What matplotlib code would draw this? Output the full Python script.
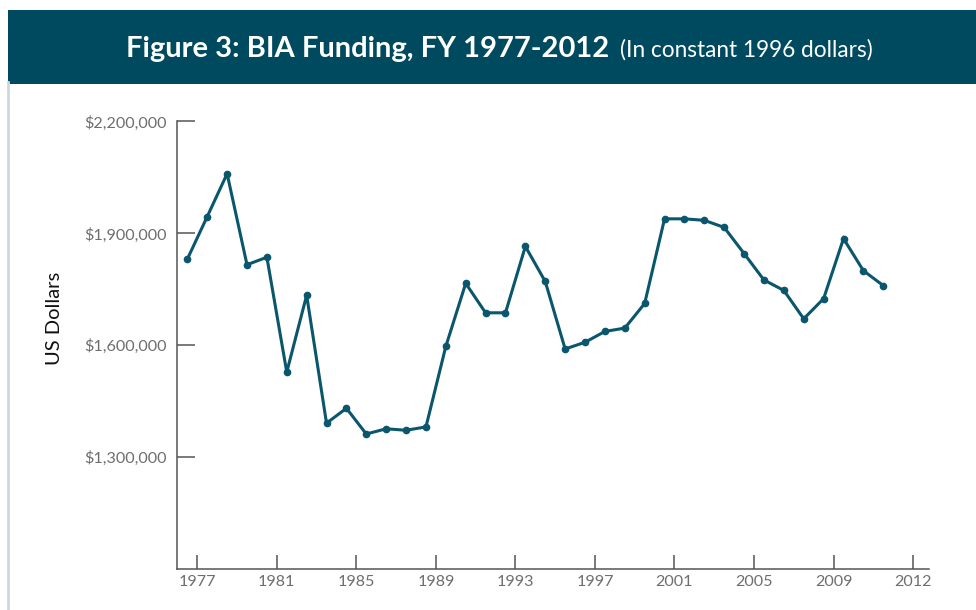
import matplotlib
matplotlib.use("Agg")
import matplotlib.pyplot as plt
from matplotlib.patches import Rectangle
from matplotlib.lines import Line2D
from matplotlib.ticker import FuncFormatter

# Data (FY 1977-2012, constant 1996 dollars)
years = list(range(1977, 2013))
funding = [1831000, 1945000, 2060000, 1816000, 1836000, 1528000, 1734000, 1391000,
           1431000, 1362000, 1376000, 1372000, 1381000, 1597000, 1766000, 1687000,
           1687000, 1865000, 1771000, 1590000, 1608000, 1637000, 1646000, 1712000,
           1939000, 1939000, 1935000, 1916000, 1846000, 1775000, 1747000, 1671000,
           1725000, 1886000, 1800000, 1760000]
tick_labels = ["1977", "1981", "1985", "1989", "1993", "1997", "2001", "2005", "2009", "2012"]
y_ticks = [1300000, 1600000, 1900000, 2200000]

W, H = 976, 610
fig = plt.figure(figsize=(W / 100, H / 100), dpi=100)
fig.patch.set_facecolor("white")

banner = "#004A60"
line_col = "#0A566C"
gray = "#6E6E6E"

# Banner
fig.patches.append(Rectangle((8 / W, 1 - 84 / H), 1 - 8 / W, 74 / H,
                             transform=fig.transFigure, facecolor=banner,
                             edgecolor="none", zorder=0))
# Left frame line
fig.lines.append(Line2D([7.5 / W, 7.5 / W], [0, 1 - 82 / H], transform=fig.transFigure,
                        color="#C9D9DF", linewidth=2))

fig.text(609 / W, 1 - 49 / H, "Figure 3: BIA Funding, FY 1977-2012", color="white",
         fontsize=21, fontweight="bold", family="Lato", ha="right", va="center")
fig.text(620 / W, 1 - 50 / H, "(In constant 1996 dollars)", color="white",
         fontsize=16.3, family="Lato", ha="left", va="center")

ax = fig.add_axes([177.4 / W, 1 - 569 / H, (929 - 177.4) / W, (569 - 121.5) / H])
x = list(range(len(years)))
ax.plot(x, funding, color=line_col, linewidth=2.2, marker="o", markersize=4.5,
        markerfacecolor=line_col, markeredgecolor=line_col, solid_joinstyle="miter")

ax.set_xlim(-0.5, 37.3)
ax.set_ylim(1000000, 2200000)
ax.set_xticks([0.5 + 4 * k for k in range(len(tick_labels))])
ax.set_xticklabels(tick_labels)
ax.set_yticks(y_ticks)
ax.yaxis.set_major_formatter(FuncFormatter(lambda v, p: "${:,.0f}".format(v)))

for s in ["top", "right"]:
    ax.spines[s].set_visible(False)
for s in ["left", "bottom"]:
    ax.spines[s].set_color("#555555")
    ax.spines[s].set_linewidth(1.1)

ax.tick_params(axis="y", direction="in", length=13, width=1.1, color="#555555",
               labelcolor=gray, labelsize=11.6, pad=8)
ax.tick_params(axis="x", direction="in", length=10, width=1.1, color="#555555",
               labelcolor=gray, labelsize=11.6, pad=4)
for lab in ax.get_xticklabels() + ax.get_yticklabels():
    lab.set_family("Lato")

fig.text(55 / W, 1 - 318 / H, "US Dollars", rotation=90, fontsize=14.5, family="Lato",
         color="#111111", ha="center", va="center")

fig.savefig("out.png", dpi=100, facecolor="white")
